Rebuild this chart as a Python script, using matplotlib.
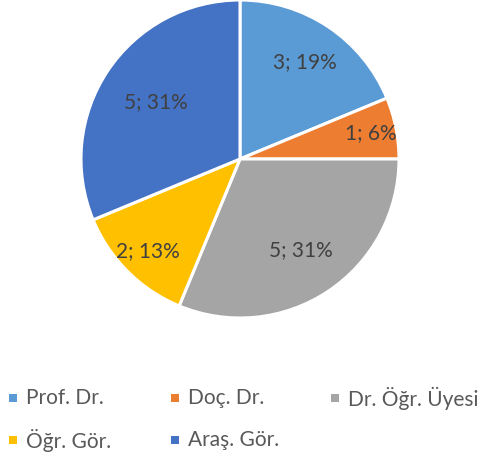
import matplotlib
matplotlib.use('Agg')
import matplotlib.pyplot as plt
from matplotlib.patches import Rectangle
import numpy as np

labels = ['Prof. Dr.', 'Doç. Dr.', 'Dr. Öğr. Üyesi', 'Öğr. Gör.', 'Araş. Gör.']
counts = [3, 1, 5, 2, 5]
colors = ['#5B9BD5', '#ED7D31', '#A5A5A5', '#FFC000', '#4472C4']

plt.rcParams['font.family'] = ['Lato', 'DejaVu Sans']

W, H = 486, 465
fig = plt.figure(figsize=(W / 100, H / 100), dpi=100)
fig.patch.set_facecolor('white')

# pie occupies a square box, center (240,159) px, radius 159 px
cx, cy, r = 240, 159, 159
ax = fig.add_axes([(cx - r) / W, (H - cy - r) / H, 2 * r / W, 2 * r / H])
wedges, _ = ax.pie(counts, colors=colors, startangle=90, counterclock=False,
                   radius=1.0, wedgeprops=dict(edgecolor='white', linewidth=2.2))
ax.set_xlim(-1, 1)
ax.set_ylim(-1, 1)
ax.axis('off')

# data labels "n; p%" (round half up like Excel)
total = sum(counts)
label_dist = [0.73, 0.84, 0.69, 0.82, 0.64]
for w, c, d in zip(wedges, counts, label_dist):
    ang = np.deg2rad((w.theta1 + w.theta2) / 2)
    pct = int(100 * c / total + 0.5)
    ax.text(d * np.cos(ang), d * np.sin(ang), '{}; {}%'.format(c, pct),
            ha='center', va='center', fontsize=15, color='#404040')

# legend, row-major in three fixed-width columns
col_x = [9, 171, 331]
row_y = [398, 440]
for i, (lab, col) in enumerate(zip(labels, colors)):
    x = col_x[i % 3]
    y = row_y[i // 3]
    fig.patches.append(Rectangle((x / W, (H - y - 4) / H), 8 / W, 8 / H,
                                 transform=fig.transFigure, facecolor=col,
                                 edgecolor='none'))
    fig.text((x + 17) / W, (H - y) / H, lab, ha='left', va='center',
             fontsize=15, color='#595959')

fig.savefig('out.png', dpi=100)
